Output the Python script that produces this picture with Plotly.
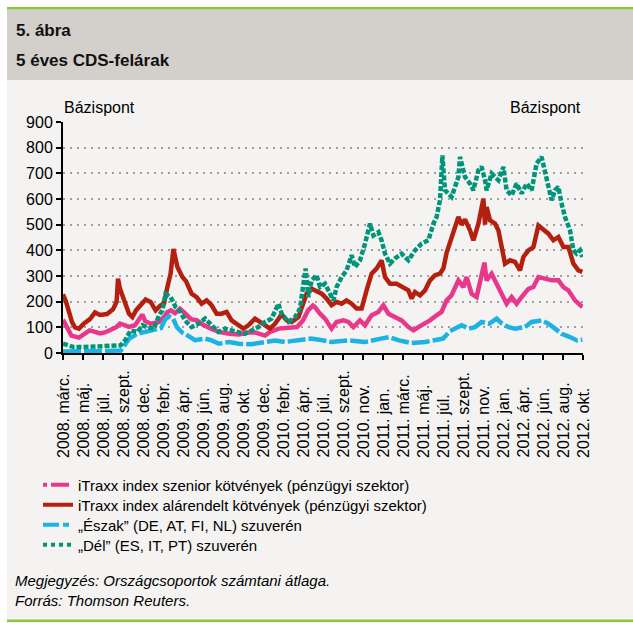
import plotly.graph_objects as go

# ---------------- data ----------------
TICK_LABELS = [
    "2008. márc.", "2008. máj.", "2008. júl.", "2008. szept.", "2008. dec.",
    "2009. febr.", "2009. ápr.", "2009. jún.", "2009. aug.", "2009. okt.", "2009. dec.",
    "2010. febr.", "2010. ápr.", "2010. júl.", "2010. szept.", "2010. nov.",
    "2011. jan.", "2011. márc.", "2011. máj.", "2011. júl.", "2011. szept.", "2011. nov.",
    "2012. jan.", "2012. ápr.", "2012. jún.", "2012. aug.", "2012. okt.",
]
TICK_POS = list(range(len(TICK_LABELS)))

SENIOR_X = [0.00, 0.17, 0.42, 0.80, 1.10, 1.33, 1.60, 1.85, 2.10, 2.35, 2.65, 2.85, 3.05, 3.30, 3.60,
            3.97, 4.10, 4.40, 4.80, 5.05, 5.22, 5.40, 5.60, 5.85, 6.10, 6.40, 6.70, 7.00, 7.40, 7.80,
            8.30, 8.80, 9.20, 9.60, 10.10, 10.35, 10.80, 11.30, 11.70, 12.00, 12.25, 12.50, 12.60,
            12.85, 13.10, 13.43, 13.68, 14.02, 14.27, 14.52, 14.85, 15.10, 15.43, 15.77, 16.02,
            16.27, 16.60, 16.93, 17.27, 17.52, 17.77, 18.10, 18.35, 18.68, 18.93, 19.18, 19.43,
            19.77, 20.02, 20.18, 20.43, 20.68, 20.93, 21.07, 21.18, 21.43, 21.68, 21.93, 22.18,
            22.43, 22.68, 22.93, 23.27, 23.52, 23.77, 24.10, 24.43, 24.77, 25.02, 25.27, 25.60, 25.97]
SENIOR_Y = [130, 104, 68, 60, 75, 88, 82, 76, 80, 90, 100, 115, 108, 102, 108,
            150, 125, 114, 121, 140, 160, 166, 155, 172, 155, 132, 127, 110, 95, 82,
            75, 72, 80, 80, 68, 82, 95, 100, 101, 127, 166, 185, 179,
            153, 134, 95, 121, 127, 121, 101, 127, 108, 147, 160, 186,
            153, 140, 127, 101, 88, 101, 114, 127, 147, 160, 205, 225,
            283, 257, 296, 231, 218, 309, 352, 283, 309, 270, 231, 192,
            218, 192, 218, 250, 257, 296, 290, 283, 283, 257, 244, 205, 179]

SUB_X = [0.00, 0.15, 0.30, 0.45, 0.60, 0.80, 1.05, 1.35, 1.60, 1.85, 2.20, 2.50, 2.68, 2.75, 2.85,
         2.97, 3.13, 3.30, 3.47, 3.65, 3.88, 4.13, 4.38, 4.63, 4.88, 5.05, 5.22, 5.38, 5.52, 5.62,
         5.72, 5.97, 6.15, 6.43, 6.68, 6.93, 7.18, 7.43, 7.68, 7.93, 8.18, 8.43, 8.77, 9.02, 9.27,
         9.60, 9.85, 10.10, 10.35, 10.60, 10.93, 11.18, 11.43, 11.77, 12.02, 12.18, 12.43, 12.68,
         12.93, 13.18, 13.43, 13.68, 13.93, 14.18, 14.43, 14.68, 14.93, 15.18, 15.43, 15.68, 15.93,
         16.10, 16.35, 16.68, 17.02, 17.27, 17.43, 17.60, 17.85, 18.10, 18.35, 18.60, 18.85, 19.02,
         19.18, 19.35, 19.60, 19.77, 19.93, 20.10, 20.35, 20.52, 20.77, 20.93, 21.02, 21.10, 21.18,
         21.35, 21.60, 21.77, 21.93, 22.10, 22.35, 22.60, 22.85, 23.02, 23.27, 23.52, 23.77, 24.02,
         24.27, 24.52, 24.77, 25.02, 25.27, 25.52, 25.77, 25.97]
SUB_Y = [228, 200, 160, 120, 100, 95, 115, 132, 158, 148, 152, 170, 200, 290, 250,
         220, 190, 153, 140, 166, 186, 208, 199, 166, 186, 192, 257, 309, 405, 370,
         335, 296, 280, 231, 218, 192, 205, 186, 153, 153, 160, 127, 108, 95, 108,
         134, 121, 108, 95, 114, 150, 127, 121, 140, 192, 231, 250, 238,
         231, 212, 186, 199, 192, 205, 192, 173, 173, 244, 309, 329, 361,
         296, 270, 270, 257, 244, 212, 238, 225, 244, 283, 303, 309, 330,
         390, 430, 500, 530, 500, 520, 478, 439, 504, 569, 601, 500, 569,
         517, 504, 478, 413, 348, 361, 355, 322, 374, 400, 413, 497, 478,
         465, 439, 452, 413, 413, 348, 322, 316]

NORTH_X = [0.0, 1.0, 2.0, 2.9, 3.0, 3.1, 3.3, 3.7, 4.1, 4.5, 4.9, 5.1, 5.3, 5.5, 5.7, 5.95, 6.1,
           6.6, 7.1, 7.4, 7.8, 8.3, 8.8, 9.4, 10.1, 10.6, 11.1, 11.6, 12.4, 12.8, 13.4, 14.3,
           15.1, 15.9, 16.3, 16.8, 17.4, 18.1, 18.6, 19.0, 19.35, 19.6, 19.93, 20.3, 20.6, 20.93,
           21.3, 21.68, 21.95, 22.27, 22.6, 23.1, 23.43, 23.93, 24.27, 24.6, 24.93, 25.35, 25.7, 25.97]
NORTH_Y = [6, 5, 7, 10, 20, 35, 55, 75, 82, 90, 97, 130, 143, 135, 100, 80, 75,
           50, 56, 50, 36, 43, 36, 34, 43, 49, 43, 49, 56, 52, 43, 49,
           43, 56, 62, 49, 39, 43, 49, 56, 85, 95, 108, 95, 101, 121,
           114, 134, 114, 101, 95, 101, 121, 127, 114, 95, 75, 62, 49, 52]

SOUTH_X = [0.00, 0.55, 1.30, 2.05, 2.88, 3.13, 3.38, 3.72, 3.97, 4.22, 4.55, 4.80, 4.97, 5.13,
           5.38, 5.63, 5.88, 6.10, 6.43, 6.77, 7.10, 7.43, 7.77, 8.10, 8.43, 8.77, 9.10, 9.43,
           9.77, 10.10, 10.43, 10.77, 10.93, 11.27, 11.60, 11.85, 12.02, 12.13, 12.27, 12.43,
           12.68, 12.85, 13.10, 13.35, 13.52, 13.68, 13.93, 14.18, 14.43, 14.60, 14.85, 15.10,
           15.35, 15.52, 15.77, 15.93, 16.10, 16.35, 16.60, 16.93, 17.27, 17.60, 17.93, 18.27,
           18.52, 18.68, 18.85, 18.97, 19.10, 19.43, 19.77, 19.85, 20.10, 20.35, 20.52, 20.77,
           20.93, 21.10, 21.18, 21.43, 21.77, 22.02, 22.18, 22.43, 22.68, 22.93, 23.18, 23.43,
           23.68, 23.93, 24.10, 24.27, 24.43, 24.60, 24.77, 24.93, 25.10, 25.35, 25.52, 25.68,
           25.85, 25.97]
SOUTH_Y = [36, 23, 24, 26, 30, 52, 88, 82, 108, 101, 95, 147, 166, 231,
           218, 179, 160, 127, 101, 114, 134, 108, 82, 95, 88, 82, 75, 88,
           101, 121, 134, 192, 153, 121, 140, 173, 270, 329, 218, 283,
           303, 257, 270, 231, 205, 257, 296, 322, 381, 335, 361, 426,
           504, 458, 471, 439, 387, 348, 368, 387, 361, 400, 426, 439,
           504, 530, 595, 770, 634, 608, 686, 764, 686, 660, 634, 712,
           725, 673, 634, 699, 673, 725, 634, 614, 660, 621, 660, 634,
           738, 764, 712, 647, 595, 634, 647, 582, 530, 478, 400, 387,
           400, 374]

NAMES = [
    "iTraxx index szenior kötvények (pénzügyi szektor)",
    "iTraxx index alárendelt kötvények (pénzügyi szektor)",
    "„Észak” (DE, AT, FI, NL) szuverén",
    "„Dél” (ES, IT, PT) szuverén",
]
COLORS = ["#e8388c", "#b32010", "#1cb2e4", "#00957a"]
LEGEND_DASH = ["4px,4px,18px,4px", "solid", "16px,4px,6px,4px", "4px,4px"]
PLOT_DASH = ["solid", "solid", "18px,3px", "5px,2px"]

# ---------------- layout geometry (pixels) ----------------
FW, FH = 633, 623
L, T, W, H = 63, 122, 520, 231
LEGEND_ROWS = [485, 505, 525, 545]


def fx(px):
    return (px - L) / W


def fy(py):
    return (T + H - py) / H


FONT = "Liberation Sans"

fig = go.Figure()

series = [(SENIOR_X, SENIOR_Y), (SUB_X, SUB_Y), (NORTH_X, NORTH_Y), (SOUTH_X, SOUTH_Y)]
for (xs, ys), name, col, dash in zip(series, NAMES, COLORS, PLOT_DASH):
    fig.add_trace(go.Scatter(x=xs, y=ys, mode="lines", name=name, showlegend=False,
                             line=dict(color=col, width=4.5, dash=dash), hoverinfo="skip"))

legend_ids = ["legend", "legend2", "legend3", "legend4"]
for name, col, dash, lid in zip(NAMES, COLORS, LEGEND_DASH, legend_ids):
    fig.add_trace(go.Scatter(x=[None], y=[None], mode="lines", name=name, legend=lid,
                             line=dict(color=col, width=4, dash=dash)))

axis_common = dict(
    range=[0, 900], tickvals=list(range(0, 901, 100)), ticks="outside", ticklen=5,
    tickwidth=2, tickcolor="black", showline=True, linewidth=2, linecolor="black",
    tickfont=dict(family=FONT, size=16, color="black"), zeroline=False, fixedrange=True,
)

fig.update_layout(
    width=FW, height=FH,
    margin=dict(l=L, r=FW - L - W, t=T, b=FH - T - H, pad=0),
    paper_bgcolor="white", plot_bgcolor="rgba(0,0,0,0)",
    xaxis=dict(range=[0, 26], tickvals=TICK_POS, showticklabels=False, ticks="outside",
               ticklen=5, tickwidth=2, tickcolor="black", showline=True, linewidth=2,
               linecolor="black", showgrid=False, zeroline=False, fixedrange=True),
    yaxis=dict(**axis_common, showgrid=True, gridcolor="#a0a0a0", gridwidth=2,
               griddash="2px,5px"),
    yaxis2=dict(**axis_common, overlaying="y", side="right", showgrid=False),
    showlegend=True,
)
for lid, row in zip(legend_ids, LEGEND_ROWS):
    fig.update_layout({lid: dict(x=fx(38), y=fy(row), xanchor="left", yanchor="middle",
                                 bgcolor="rgba(0,0,0,0)",
                                 font=dict(family=FONT, size=15, color="black"),
                                 itemwidth=30)})

shapes = [
    dict(type="rect", xref="paper", yref="paper", x0=fx(7), x1=fx(FW), y0=fy(FH), y1=fy(80),
         fillcolor="#f4f3f1", line=dict(width=0), layer="below"),
    dict(type="rect", xref="paper", yref="paper", x0=fx(7), x1=fx(FW), y0=fy(80), y1=fy(9.5),
         fillcolor="#d3cfca", line=dict(width=0), layer="below"),
    dict(type="rect", xref="paper", yref="paper", x0=fx(7), x1=fx(FW), y0=fy(9.5), y1=fy(7),
         fillcolor="#8cc63f", line=dict(width=0), layer="below"),
    dict(type="rect", xref="paper", yref="paper", x0=fx(7), x1=fx(FW), y0=fy(622), y1=fy(619.5),
         fillcolor="#8cc63f", line=dict(width=0), layer="below"),
]
fig.update_layout(shapes=shapes)

ann = []
ann.append(dict(text="<b>5. ábra</b>", x=fx(14), y=fy(31), xref="paper", yref="paper",
                xanchor="left", yanchor="middle", showarrow=False,
                font=dict(family=FONT, size=17, color="#111")))
ann.append(dict(text="<b>5 éves CDS-felárak</b>", x=fx(14), y=fy(61), xref="paper", yref="paper",
                xanchor="left", yanchor="middle", showarrow=False,
                font=dict(family=FONT, size=17, color="#111")))
ann.append(dict(text="Bázispont", x=fx(62), y=fy(107), xref="paper", yref="paper",
                xanchor="left", yanchor="middle", showarrow=False,
                font=dict(family=FONT, size=16, color="black")))
ann.append(dict(text="Bázispont", x=fx(583), y=fy(107), xref="paper", yref="paper",
                xanchor="right", yanchor="middle", showarrow=False,
                font=dict(family=FONT, size=16, color="black")))
for pos, lab in zip(TICK_POS, TICK_LABELS):
    ann.append(dict(text=lab, x=pos, y=fy(460), xref="x", yref="paper", textangle=-90,
                    xanchor="center", yanchor="bottom", showarrow=False,
                    font=dict(family=FONT, size=16, color="black")))
ann.append(dict(text="<i>Megjegyzés: Országcsoportok számtani átlaga.</i>", x=fx(13), y=fy(580),
                xref="paper", yref="paper", xanchor="left", yanchor="middle", showarrow=False,
                font=dict(family=FONT, size=15, color="black")))
ann.append(dict(text="<i>Forrás: Thomson Reuters.</i>", x=fx(13), y=fy(600),
                xref="paper", yref="paper", xanchor="left", yanchor="middle", showarrow=False,
                font=dict(family=FONT, size=15, color="black")))
fig.update_layout(annotations=ann)

fig.write_html("out.html", config={"displayModeBar": False},
               post_script="document.body.style.margin='0';")
